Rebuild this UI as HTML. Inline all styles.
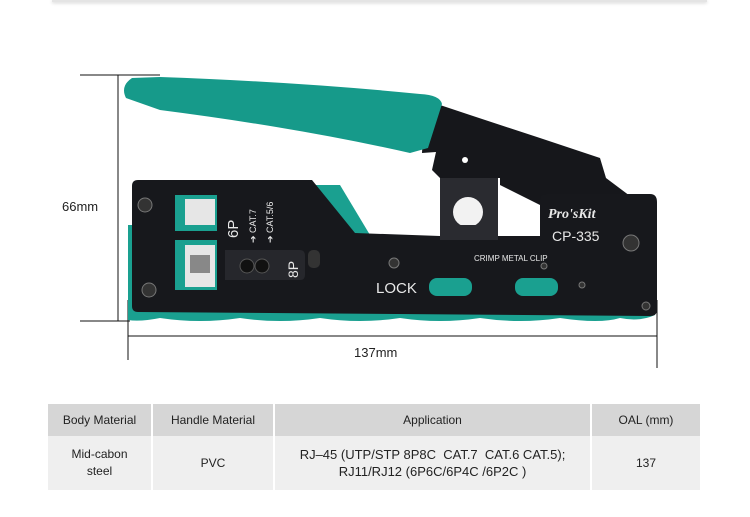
<!DOCTYPE html>
<html><head><meta charset="utf-8"><style>
body{margin:0;width:750px;height:517px;background:#fff;overflow:hidden;font-family:"Liberation Sans",sans-serif;}
.t{position:absolute;left:48px;top:404px;border-collapse:separate;border-spacing:2px 0;font-size:12px;color:#222;table-layout:fixed;width:656px;margin-left:-2px}
.t td{padding:0;}
</style></head><body>
<div style="position:absolute;left:52px;top:0;width:655px;height:2px;background:#e4e4e4;box-shadow:0 1px 3px #ccc"></div>
<svg width="750" height="400" style="position:absolute;left:0;top:0" font-family="Liberation Sans, sans-serif">
<g stroke="#111" stroke-width="1">
<line x1="80" y1="75" x2="160" y2="75"/><line x1="80" y1="321" x2="130" y2="321"/>
<line x1="118" y1="75" x2="118" y2="321"/>
<line x1="128" y1="300" x2="128" y2="360"/><line x1="657" y1="300" x2="657" y2="368"/>
<line x1="128" y1="336" x2="657" y2="336"/>
</g>
<text x="62" y="211" font-size="13" fill="#222">66mm</text>
<text x="354" y="357" font-size="13" fill="#222">137mm</text>
<polygon points="425,100 470,115 540,138 600,158 606,178 630,196 540,205 500,185 500,178 440,178 432,170 436,152 422,153" fill="#16171b"/>
<circle cx="465" cy="160" r="3" fill="#fff"/>
<path d="M132,78 Q120,86 126,98 L160,110 Q300,128 410,153 L428,148 L442,104 Q440,95 420,94 Q300,82 160,77 Z" fill="#169a8a"/>
<rect x="440" y="178" width="58" height="55" fill="#2a2b30"/>
<circle cx="468" cy="212" r="15" fill="#f2f2f2"/>
<path d="M128,225 L134,225 L134,305 L655,305 L655,315 Q640,322 620,318 Q600,324 560,318 Q520,324 480,318 Q440,324 400,318 Q360,324 320,318 Q280,324 240,318 Q200,324 160,318 Q140,322 128,320 Z" fill="#1aa090"/>
<path d="M300,185 L340,185 L370,235 L330,235 Z" fill="#1aa090"/>
<path d="M134,180 L312,180 L355,233 L440,236 L500,236 L540,236 L540,200 Q540,194 548,194 L650,194 Q657,194 657,202 L657,310 Q657,316 650,316 L138,312 Q132,312 132,306 L132,186 Q132,180 138,180 Z" fill="#17181c"/>
<rect x="440" y="225" width="58" height="15" fill="#2a2b30"/>
<rect x="175" y="195" width="42" height="36" fill="#1aa090"/>
<rect x="185" y="199" width="30" height="26" fill="#e6e6e6"/>
<rect x="175" y="240" width="42" height="50" fill="#1aa090"/>
<rect x="185" y="245" width="30" height="42" fill="#e6e6e6"/>
<rect x="190" y="255" width="20" height="18" fill="#888"/>
<path d="M225,250 L300,250 Q305,250 305,256 L305,275 Q305,280 300,280 L225,280 Z" fill="#26272c"/>
<circle cx="247" cy="266" r="7" fill="#111" stroke="#555"/><circle cx="262" cy="266" r="7" fill="#111" stroke="#555"/>
<rect x="308" y="250" width="12" height="18" rx="5" fill="#333"/>
<g fill="#333" stroke="#777"><circle cx="145" cy="205" r="7"/><circle cx="149" cy="290" r="7"/><circle cx="631" cy="243" r="8"/><circle cx="646" cy="306" r="4"/><circle cx="394" cy="263" r="5"/><circle cx="544" cy="266" r="3"/><circle cx="582" cy="285" r="3"/></g>
<g fill="#e8e8e8">
<text transform="translate(238,238) rotate(-90)" font-size="15">6P</text>
<text transform="translate(256,243) rotate(-90)" font-size="9">➔ CAT.7</text>
<text transform="translate(273,243) rotate(-90)" font-size="9">➔ CAT.5/6</text>
<text transform="translate(298,278) rotate(-90)" font-size="14">8P</text>
<text x="548" y="218" font-size="14" font-weight="bold" font-style="italic" font-family="Liberation Serif, serif">Pro'sKit</text>
<text x="552" y="241" font-size="14">CP-335</text>
<text x="474" y="261" font-size="8">CRIMP METAL CLIP</text>
<text x="376" y="293" font-size="15">LOCK</text>
</g>
<rect x="429" y="278" width="43" height="18" rx="8" fill="#1aa090"/>
<rect x="515" y="278" width="43" height="18" rx="8" fill="#1aa090"/>
</svg>
<table class="t">
<colgroup><col style="width:103px"><col style="width:120px"><col style="width:315px"><col style="width:108px"></colgroup>
<tr style="height:32px;text-align:center">
<td style="background:#d6d6d6">Body Material</td><td style="background:#d6d6d6">Handle Material</td><td style="background:#d6d6d6">Application</td><td style="background:#d6d6d6">OAL (mm)</td></tr>
<tr style="height:54px;text-align:center;line-height:17px">
<td style="background:#efefef">Mid-cabon<br>steel</td><td style="background:#efefef">PVC</td><td style="background:#efefef;font-size:13px">RJ–45 (UTP/STP 8P8C&nbsp; CAT.7&nbsp; CAT.6 CAT.5);<br>RJ11/RJ12 (6P6C/6P4C /6P2C )</td><td style="background:#efefef">137</td></tr>
</table>
</body></html>
